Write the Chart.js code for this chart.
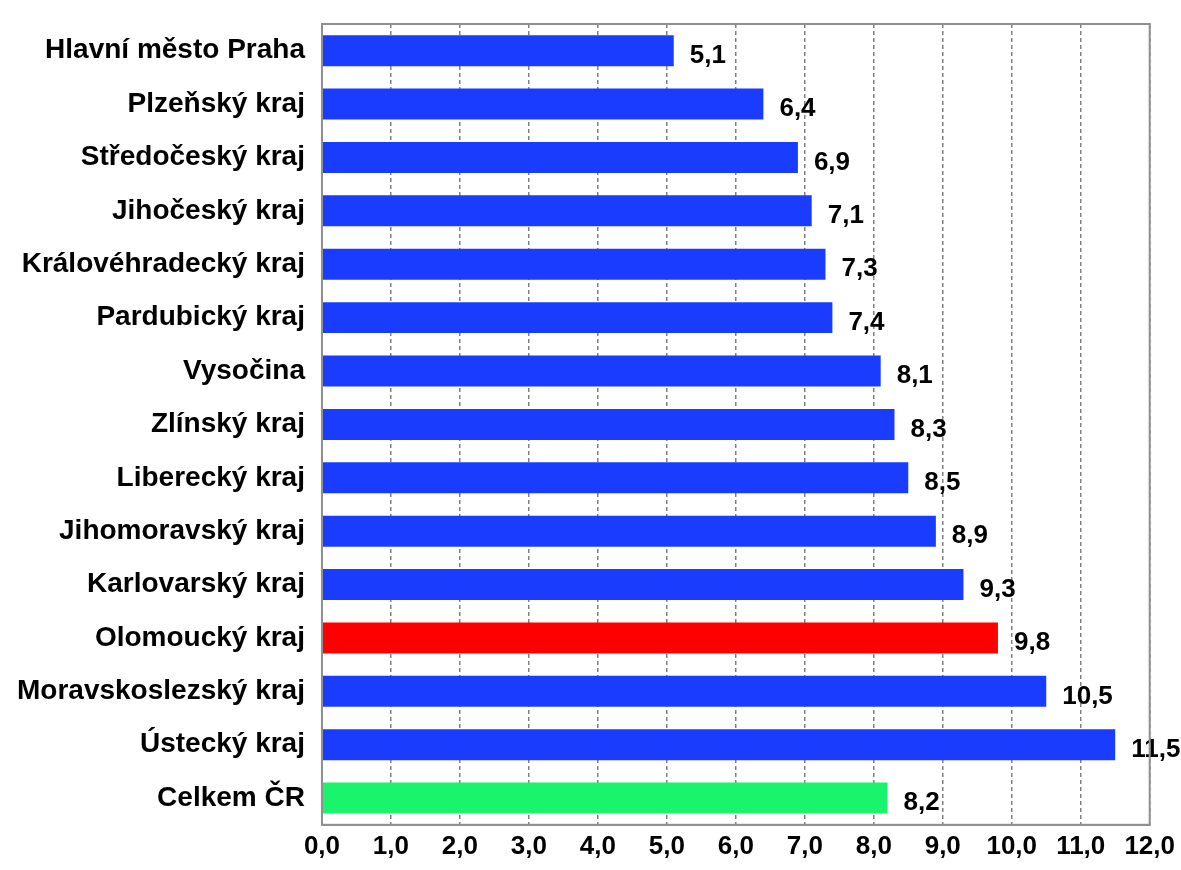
<!DOCTYPE html>
<html>
<head>
<meta charset="utf-8">
<script src="https://cdn.jsdelivr.net/npm/chart.js@4/dist/chart.umd.min.js"></script>
<style>
  body { margin: 0; background: #fff; }
  #wrap { width: 1181px; height: 870px; }
</style>
</head>
<body>
<div id="wrap"><canvas id="graf"></canvas></div>
<script>
const kraje = ['Hlavní město Praha', 'Plzeňský kraj', 'Středočeský kraj', 'Jihočeský kraj',
  'Královéhradecký kraj', 'Pardubický kraj', 'Vysočina', 'Zlínský kraj', 'Liberecký kraj',
  'Jihomoravský kraj', 'Karlovarský kraj', 'Olomoucký kraj', 'Moravskoslezský kraj',
  'Ústecký kraj', 'Celkem ČR'];
const hodnoty = [5.1, 6.4, 6.9, 7.1, 7.3, 7.4, 8.1, 8.3, 8.5, 8.9, 9.3, 9.8, 10.5, 11.5, 8.2];
const barvy = kraje.map(k => k === 'Olomoucký kraj' ? '#ff0000' : (k === 'Celkem ČR' ? '#19f46c' : '#1a3cff'));

const fmt = v => v.toFixed(1).replace('.', ',');
const pismo = '"Liberation Sans", Arial, sans-serif';

// popisky hodnot za koncem sloupce
const popisky = {
  id: 'popisky',
  afterDatasetsDraw(chart) {
    const ctx = chart.ctx;
    ctx.save();
    ctx.font = 'bold 26px ' + pismo;
    ctx.fillStyle = '#000';
    ctx.textBaseline = 'middle';
    chart.getDatasetMeta(0).data.forEach((bar, i) => {
      ctx.fillText(fmt(hodnoty[i]), bar.x + 16, bar.y + 5);
    });
    ctx.restore();
  }
};

new Chart(document.getElementById('graf'), {
  type: 'bar',
  data: {
    labels: kraje,
    datasets: [{ data: hodnoty, backgroundColor: barvy, barPercentage: 0.58, categoryPercentage: 1.0 }]
  },
  options: {
    indexAxis: 'y',
    responsive: true,
    maintainAspectRatio: false,
    animation: false,
    layout: { padding: { top: -18, right: 10, left: 0, bottom: 2 } },
    plugins: { legend: { display: false }, tooltip: { enabled: false } },
    scales: {
      x: {
        min: 0, max: 12,
        ticks: { stepSize: 1, callback: v => fmt(v), color: '#000', padding: 6,
          font: { family: pismo, size: 26, weight: 'bold' } },
        grid: { color: '#808080', lineWidth: 1.5, drawTicks: false },
        border: { display: true, color: '#909090', width: 2, dash: [4, 3] }
      },
      y: {
        ticks: { color: '#000', padding: 17,
          font: { family: pismo, size: 28, weight: 'bold', lineHeight: 0.5 } },
        grid: { display: false, drawTicks: false },
        border: { display: true, color: '#909090', width: 2 }
      }
    }
  },
  plugins: [popisky, {
    id: 'ramecek',
    afterDraw(chart) {
      const a = chart.chartArea, ctx = chart.ctx;
      ctx.save();
      ctx.strokeStyle = '#909090';
      ctx.lineWidth = 2;
      ctx.strokeRect(a.left, a.top, a.right - a.left, a.bottom - a.top);
      ctx.restore();
    }
  }]
});
</script>
</body>
</html>
